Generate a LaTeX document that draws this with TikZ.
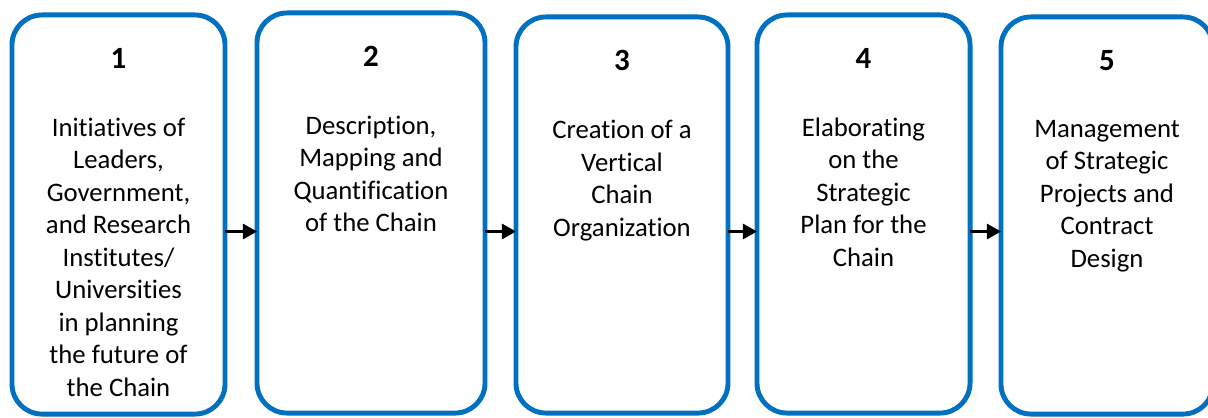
\documentclass[tikz,border=0pt]{standalone}
\usepackage{fontspec}
\setmainfont[Ligatures=NoCommon]{Carlito}
\usetikzlibrary{positioning,arrows.meta}

\definecolor{stageblue}{RGB}{0,112,192}

\tikzset{
  stage/.style={draw=stageblue,line width=3.5pt,rounded corners=0.75cm,outer sep=0pt,inner sep=0pt},
  stagenum/.style={font=\fontsize{22}{26}\selectfont\bfseries,inner sep=0pt},
  stagetext/.style={font=\fontsize{19}{23.1}\selectfont,align=center,inner sep=0pt},
  flow/.style={line width=1.5pt}
}

\begin{document}
\begin{tikzpicture}[x=0.025cm,y=-0.025cm,>={Triangle[length=0.35cm,width=0.38cm]}]

\useasboundingbox (0,0) rectangle (1208,417);

\node [stage,minimum width=5.325cm,minimum height=9.975cm] at (118.5,214.5) (b1) {};
\node [stage,minimum width=5.7cm,minimum height=10cm]      at (371,213)     (b2) {};
\node [stage,minimum width=5.3cm,minimum height=9.9cm]     at (622,215)     (b3) {};
\node [stage,minimum width=5.325cm,minimum height=9.95cm]  at (863.5,214)   (b4) {};
\node [stage,minimum width=5.3cm,minimum height=9.925cm]   at (1107,215.5)  (b5) {};

% numbers
\node [stagenum,below=0.83cm of b1.north] (n1) {1};
\node [stagenum,below=0.83cm of b2.north] (n2) {2};
\node [stagenum,below=0.83cm of b3.north] (n3) {3};
\node [stagenum,below=0.83cm of b4.north] (n4) {4};
\node [stagenum,below=0.83cm of b5.north] (n5) {5};

% texts
\node [stagetext,below=1.22cm of n1] (t1) {Initiatives of\\Leaders,\\Government,\\and Research\\Institutes/\\Universities\\in planning\\the future of\\the Chain};
\node [stagetext,below=1.22cm of n2] (t2) {Description,\\Mapping and\\Quantification\\of the Chain};
\node [stagetext,below=1.22cm of n3] (t3) {Creation of a\\Vertical\\Chain\\Organization};
\node [stagetext,below=1.22cm of n4] (t4) {Elaborating\\on the\\Strategic\\Plan for the\\Chain};
\node [stagetext,below=1.22cm of n5] (t5) {Management\\of Strategic\\Projects and\\Contract\\Design};

% arrows
\coordinate (level) at (0,231.5);
\draw [->,flow] (b1.east |- level) -- (b2.west |- level);
\draw [->,flow] (b2.east |- level) -- (b3.west |- level);
\draw [->,flow] (b3.east |- level) -- (b4.west |- level);
\draw [->,flow] (b4.east |- level) -- (b5.west |- level);

\end{tikzpicture}
\end{document}
